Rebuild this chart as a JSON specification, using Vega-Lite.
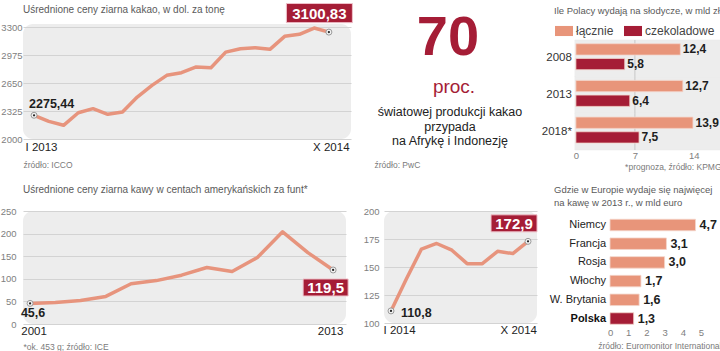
{
  "$schema": "https://vega.github.io/schema/vega-lite/v6.json",
  "background": "white",
  "padding": {"left": 0, "top": 1, "right": 0, "bottom": 0},
  "columns": 3,
  "spacing": {"row": 61, "column": 33},
  "bounds": "flush",
  "center": false,
  "resolve": {"scale": {"color": "independent"}, "legend": {"color": "independent"}},
  "config": {
    "font": "Liberation Sans Narrow, Liberation Sans, DejaVu Sans, sans-serif",
    "locale": {"number": {"decimal": ",", "thousands": " ", "grouping": [3], "currency": ["", ""]}},
    "view": {"stroke": null},
    "axis": {"domain": false, "ticks": false, "grid": false, "labelColor": "#808080", "labelFontSize": 9.5, "titleColor": "#7a7a7a", "titleFontSize": 8.5, "titleFontWeight": "normal", "gridColor": "#d3d3d3", "gridWidth": 1},
    "title": {"fontSize": 10, "fontWeight": "normal", "color": "#5a5a5a", "anchor": "start", "frame": "group"}
  },
  "concat": [
    {
      "width": 328,
      "height": 115,
      "view": {"fill": "#ededed", "cornerRadius": 10},
      "title": {"text": "Uśrednione ceny ziarna kakao, w dol. za tonę", "offset": -13},
      "data": {"values": [
        {"m": 1, "v": 2275.44, "pos": "start", "lab": 2275.44},
        {"m": 2, "v": 2205},
        {"m": 3, "v": 2159},
        {"m": 4, "v": 2305},
        {"m": 5, "v": 2352},
        {"m": 6, "v": 2287},
        {"m": 7, "v": 2313},
        {"m": 8, "v": 2487},
        {"m": 9, "v": 2623},
        {"m": 10, "v": 2739},
        {"m": 11, "v": 2770},
        {"m": 12, "v": 2836},
        {"m": 13, "v": 2828},
        {"m": 14, "v": 3009},
        {"m": 15, "v": 3048},
        {"m": 16, "v": 3060},
        {"m": 17, "v": 3041},
        {"m": 18, "v": 3192},
        {"m": 19, "v": 3215},
        {"m": 20, "v": 3288},
        {"m": 21, "v": 3241, "pos": "end", "lab": 3100.83}
      ]},
      "encoding": {
        "x": {"field": "m", "type": "quantitative", "scale": {"domain": [0.25, 22.5], "nice": false, "zero": false},
              "axis": {"values": [1.47, 21.13], "labelExpr": "datum.value < 10 ? 'I 2013' : 'X 2014'", "labelFontSize": 11.5, "labelColor": "#222", "labelPadding": 2, "labelFlush": false, "title": "źródło: ICCO", "titleAnchor": "start", "titlePadding": 8}},
        "y": {"field": "v", "type": "quantitative", "scale": {"domain": [2000, 3335], "nice": false, "zero": false},
              "axis": {"values": [2000, 2325, 2650, 2975, 3300], "format": "d", "grid": true, "title": null, "labelPadding": 1}}
      },
      "layer": [
        {"mark": {"type": "line", "color": "#e7947d", "strokeWidth": 3.5, "strokeJoin": "round", "strokeCap": "round"}},
        {"transform": [{"filter": "isValid(datum.pos)"}], "mark": {"type": "point", "filled": true, "fill": "#f2f2f2", "stroke": "#9a9a9a", "strokeWidth": 1, "size": 36, "opacity": 1}},
        {"transform": [{"filter": "isValid(datum.pos)"}], "mark": {"type": "point", "filled": true, "color": "#222", "size": 5, "opacity": 1}},
        {"transform": [{"filter": "datum.pos == 'start'"}], "mark": {"type": "text", "align": "left", "baseline": "middle", "xOffset": -5, "yOffset": -11, "fontSize": 12.5, "fontWeight": "bold", "color": "#1e1e1e"},
         "encoding": {"text": {"field": "lab", "type": "quantitative", "format": ".2f"}}},
        {"transform": [{"filter": "datum.pos == 'end'"}], "mark": {"type": "point", "shape": "M-1,-0.29H1V0.29H-1Z", "size": 4356, "filled": true, "fill": "#a51d36", "stroke": "#efc3cb", "strokeWidth": 1, "opacity": 1, "xOffset": -9.5, "yOffset": -19}},
        {"transform": [{"filter": "datum.pos == 'end'"}], "mark": {"type": "text", "align": "center", "baseline": "middle", "xOffset": -9.5, "yOffset": -18, "fontSize": 15, "fontWeight": "bold", "color": "white"},
         "encoding": {"text": {"field": "lab", "type": "quantitative", "format": ".2f"}}}
      ]
    },
    {
      "width": 132,
      "height": 126,
      "data": {"values": [
        {"part": "liczba", "t": "70"},
        {"part": "jedn", "t": "proc."},
        {"part": "opis", "t": "światowej produkcji kakao\nprzypada\nna Afrykę i Indonezję"}
      ]},
      "encoding": {
        "x": {"datum": 0, "type": "quantitative", "scale": {"domain": [-1, 1]},
              "axis": {"title": "źródło: PwC", "labels": false, "titleAnchor": "start", "titleAlign": "left", "titleX": -10, "titlePadding": 10}},
        "y": {"datum": 0, "type": "quantitative", "scale": {"domain": [-1, 1]}, "axis": null},
        "text": {"field": "t"}
      },
      "layer": [
        {"transform": [{"filter": "datum.part == 'liczba'"}], "mark": {"type": "text", "fontSize": 56, "fontWeight": "bold", "color": "#a51d36", "baseline": "alphabetic", "dy": -32, "dx": -2}},
        {"transform": [{"filter": "datum.part == 'jedn'"}], "mark": {"type": "text", "fontSize": 19, "color": "#a51d36", "baseline": "alphabetic", "dy": 6, "dx": 4}},
        {"transform": [{"filter": "datum.part == 'opis'"}], "mark": {"type": "text", "fontSize": 12.5, "color": "#222", "baseline": "alphabetic", "dy": 29, "lineBreak": "\n", "lineHeight": 14.5}}
      ]
    },
    {
      "width": 151,
      "height": 126,
      "title": {"text": "Ile Polacy wydają na słodycze, w mld zł", "offset": 7, "dx": -16, "fontSize": 9.5},
      "data": {"values": [
        {"rok": "2008", "typ": "łącznie", "v": 12.4},
        {"rok": "2008", "typ": "czekoladowe", "v": 5.8},
        {"rok": "2013", "typ": "łącznie", "v": 12.7},
        {"rok": "2013", "typ": "czekoladowe", "v": 6.4},
        {"rok": "2018*", "typ": "łącznie", "v": 13.9},
        {"rok": "2018*", "typ": "czekoladowe", "v": 7.5}
      ]},
      "encoding": {
        "x": {"field": "v", "type": "quantitative", "scale": {"domain": [-0.7, 17.23], "nice": false, "zero": false},
              "axis": {"values": [0, 7, 14], "labelPadding": 0, "labelFlush": false, "title": "*prognoza, źródło: KPMG", "titleAnchor": "end", "titlePadding": 3}},
        "y": {"field": "rok", "type": "nominal", "sort": null, "scale": {"paddingInner": 0, "paddingOuter": 0.218, "align": 1}, "axis": null}
      },
      "layer": [
        {"transform": [{"filter": "datum.typ == 'łącznie'"}], "mark": {"type": "rect", "color": "#ededed", "stroke": "#ededed", "strokeWidth": 0.6},
         "encoding": {"x": {"datum": -0.12, "type": "quantitative"}, "x2": {"datum": 17.23}}},
        {"transform": [{"filter": "datum.typ == 'łącznie'"}], "mark": {"type": "rect", "fill": null, "stroke": "#d3d3d3", "strokeWidth": 1},
         "encoding": {"x": {"datum": 7, "type": "quantitative"}, "x2": {"datum": 7}}},
        {"mark": {"type": "bar", "stroke": "#f4d6cc", "strokeWidth": 0.8},
         "encoding": {
           "yOffset": {"field": "typ", "type": "nominal", "sort": ["łącznie", "czekoladowe"], "scale": {"paddingInner": 0.23, "paddingOuter": 0.363, "align": 0.35}},
           "color": {"field": "typ", "type": "nominal", "sort": ["łącznie", "czekoladowe"], "scale": {"domain": ["łącznie", "czekoladowe"], "range": ["#e8957a", "#a51d36"]},
                     "legend": {"orient": "none", "legendX": -15, "legendY": -2, "padding": 0, "direction": "horizontal", "title": null, "symbolType": "M-1,-0.56H1V0.56H-1Z", "symbolSize": 324, "symbolStrokeWidth": 0, "symbolOpacity": 1, "labelFontSize": 12, "labelColor": "#444", "labelOffset": 3, "columnPadding": 10}}
         }},
        {"mark": {"type": "text", "align": "left", "baseline": "middle", "dx": 2.5, "fontSize": 12, "fontWeight": "bold", "color": "#1e1e1e"},
         "encoding": {
           "yOffset": {"field": "typ", "type": "nominal", "sort": ["łącznie", "czekoladowe"], "scale": {"paddingInner": 0.23, "paddingOuter": 0.363, "align": 0.35}},
           "text": {"field": "v", "type": "quantitative", "format": ".1f"}
         }},
        {"transform": [{"filter": "datum.typ == 'łącznie'"}], "mark": {"type": "text", "align": "right", "baseline": "middle", "dx": -4, "fontSize": 11.5, "color": "#333"},
         "encoding": {"x": {"datum": 0, "type": "quantitative"}, "text": {"field": "rok"}}}
      ]
    },
    {
      "width": 323,
      "height": 113,
      "view": {"fill": "#ededed", "cornerRadius": 10},
      "title": {"text": "Uśrednione ceny ziarna kawy w centach amerykańskich za funt*", "offset": 11},
      "data": {"values": [
        {"r": 2001, "v": 45.6, "pos": "start"},
        {"r": 2002, "v": 47.5},
        {"r": 2003, "v": 52},
        {"r": 2004, "v": 61},
        {"r": 2005, "v": 89},
        {"r": 2006, "v": 96},
        {"r": 2007, "v": 108},
        {"r": 2008, "v": 125},
        {"r": 2009, "v": 116},
        {"r": 2010, "v": 147},
        {"r": 2011, "v": 204},
        {"r": 2012, "v": 158},
        {"r": 2013, "v": 119.5, "pos": "end"}
      ]},
      "encoding": {
        "x": {"field": "r", "type": "quantitative", "scale": {"domain": [2000.72, 2013.51], "nice": false, "zero": false},
              "axis": {"values": [2001.14, 2012.88], "labelExpr": "datum.value < 2007 ? '2001' : '2013'", "labelFontSize": 11.5, "labelColor": "#222", "labelPadding": 1, "labelFlush": false, "title": "*ok. 453 g; źródło: ICE", "titleAnchor": "start", "titlePadding": 6}},
        "y": {"field": "v", "type": "quantitative", "scale": {"domain": [0, 250], "nice": false},
              "axis": {"values": [0, 50, 100, 150, 200, 250], "format": "d", "grid": true, "title": null, "labelPadding": 7}}
      },
      "layer": [
        {"mark": {"type": "line", "color": "#e7947d", "strokeWidth": 3.5, "strokeJoin": "round", "strokeCap": "round"}},
        {"transform": [{"filter": "isValid(datum.pos)"}], "mark": {"type": "point", "filled": true, "fill": "#f2f2f2", "stroke": "#9a9a9a", "strokeWidth": 1, "size": 36, "opacity": 1}},
        {"transform": [{"filter": "isValid(datum.pos)"}], "mark": {"type": "point", "filled": true, "color": "#222", "size": 5, "opacity": 1}},
        {"transform": [{"filter": "datum.pos == 'start'"}], "mark": {"type": "text", "align": "center", "baseline": "middle", "xOffset": 3, "yOffset": 10, "fontSize": 12.5, "fontWeight": "bold", "color": "#1e1e1e"},
         "encoding": {"text": {"field": "v", "type": "quantitative", "format": ".1f"}}},
        {"transform": [{"filter": "datum.pos == 'end'"}], "mark": {"type": "point", "shape": "M-1,-0.378H1V0.378H-1Z", "size": 2025, "filled": true, "fill": "#a51d36", "stroke": "#efc3cb", "strokeWidth": 1, "opacity": 1, "xOffset": -7.5, "yOffset": 17.5}},
        {"transform": [{"filter": "datum.pos == 'end'"}], "mark": {"type": "text", "align": "center", "baseline": "middle", "xOffset": -7.5, "yOffset": 18.5, "fontSize": 15, "fontWeight": "bold", "color": "white"},
         "encoding": {"text": {"field": "v", "type": "quantitative", "format": ".1f"}}}
      ]
    },
    {
      "width": 153,
      "height": 112,
      "view": {"fill": "#ededed", "cornerRadius": 10},
      "data": {"values": [
        {"k": 1, "v": 110.8, "pos": "start"},
        {"k": 2, "v": 139},
        {"k": 3, "v": 166},
        {"k": 4, "v": 171},
        {"k": 5, "v": 165},
        {"k": 6, "v": 153},
        {"k": 7, "v": 153},
        {"k": 8, "v": 164},
        {"k": 9, "v": 162},
        {"k": 10, "v": 172.9, "pos": "end"}
      ]},
      "encoding": {
        "x": {"field": "k", "type": "quantitative", "scale": {"domain": [0.54, 10.59], "nice": false, "zero": false},
              "axis": {"values": [1.53, 9.36], "labelExpr": "datum.value < 5 ? 'I 2014' : 'X 2014'", "labelFontSize": 11.5, "labelColor": "#222", "labelPadding": 1.5, "labelFlush": false, "title": null}},
        "y": {"field": "v", "type": "quantitative", "scale": {"domain": [100, 200], "nice": false, "zero": false},
              "axis": {"values": [100, 125, 150, 175, 200], "format": "d", "grid": true, "title": null, "labelPadding": 5}}
      },
      "layer": [
        {"mark": {"type": "line", "color": "#e7947d", "strokeWidth": 3.5, "strokeJoin": "round", "strokeCap": "round"}},
        {"transform": [{"filter": "isValid(datum.pos)"}], "mark": {"type": "point", "filled": true, "fill": "#f2f2f2", "stroke": "#9a9a9a", "strokeWidth": 1, "size": 36, "opacity": 1}},
        {"transform": [{"filter": "isValid(datum.pos)"}], "mark": {"type": "point", "filled": true, "color": "#222", "size": 5, "opacity": 1}},
        {"transform": [{"filter": "datum.pos == 'start'"}], "mark": {"type": "text", "align": "left", "baseline": "middle", "xOffset": 10, "yOffset": 2, "fontSize": 12.5, "fontWeight": "bold", "color": "#1e1e1e"},
         "encoding": {"text": {"field": "v", "type": "quantitative", "format": ".1f"}}},
        {"transform": [{"filter": "datum.pos == 'end'"}], "mark": {"type": "point", "shape": "M-1,-0.37H1V0.37H-1Z", "size": 2116, "filled": true, "fill": "#a51d36", "stroke": "#efc3cb", "strokeWidth": 1, "opacity": 1, "xOffset": -14, "yOffset": -18}},
        {"transform": [{"filter": "datum.pos == 'end'"}], "mark": {"type": "text", "align": "center", "baseline": "middle", "xOffset": -14, "yOffset": -17, "fontSize": 15, "fontWeight": "bold", "color": "white"},
         "encoding": {"text": {"field": "v", "type": "quantitative", "format": ".1f"}}}
      ]
    },
    {
      "width": 151,
      "height": 116,
      "title": {"text": ["Gdzie w Europie wydaje się najwięcej", "na kawę w 2013 r., w mld euro"], "offset": 4, "dx": -16, "lineHeight": 12.5, "fontSize": 9.5},
      "data": {"values": [
        {"kraj": "Niemcy", "v": 4.7},
        {"kraj": "Francja", "v": 3.1},
        {"kraj": "Rosja", "v": 3.0},
        {"kraj": "Włochy", "v": 1.7},
        {"kraj": "W. Brytania", "v": 1.6},
        {"kraj": "Polska", "v": 1.3}
      ]},
      "encoding": {
        "x": {"field": "v", "type": "quantitative", "scale": {"domain": [-2.2, 6.1], "nice": false, "zero": false},
              "axis": {"values": [0, 1, 2, 3, 4, 5], "labelPadding": 0, "labelFlush": false, "title": "źródło: Euromonitor International", "titleAnchor": "end", "titlePadding": 5}}
      },
      "layer": [
        {"data": {"values": [{}]}, "mark": {"type": "rect", "color": "#ededed", "cornerRadius": 8},
         "encoding": {"x": {"datum": -0.17, "type": "quantitative"}, "x2": {"datum": 5.34}}},
        {"mark": {"type": "bar", "stroke": "#f4d6cc", "strokeWidth": 0.8},
         "encoding": {
           "y": {"field": "kraj", "type": "nominal", "sort": null, "scale": {"paddingInner": 0.385, "paddingOuter": 0.294, "align": 0.75}, "axis": null},
           "color": {"condition": {"test": "datum.kraj === 'Polska'", "value": "#a51d36"}, "value": "#e8957a"}
         }},
        {"mark": {"type": "text", "align": "left", "baseline": "middle", "dx": 4, "fontSize": 12.5, "fontWeight": "bold", "color": "#1e1e1e"},
         "encoding": {
           "y": {"field": "kraj", "type": "nominal", "sort": null, "axis": null},
           "text": {"field": "v", "type": "quantitative", "format": ".1f"}
         }},
        {"transform": [{"filter": "datum.kraj !== 'Polska'"}], "mark": {"type": "text", "align": "right", "baseline": "middle", "dx": -4, "fontSize": 11, "color": "#222"},
         "encoding": {"x": {"datum": 0, "type": "quantitative"}, "y": {"field": "kraj", "type": "nominal", "sort": null, "axis": null}, "text": {"field": "kraj"}}},
        {"transform": [{"filter": "datum.kraj === 'Polska'"}], "mark": {"type": "text", "align": "right", "baseline": "middle", "dx": -4, "fontSize": 11, "fontWeight": "bold", "color": "#111"},
         "encoding": {"x": {"datum": 0, "type": "quantitative"}, "y": {"field": "kraj", "type": "nominal", "sort": null, "axis": null}, "text": {"field": "kraj"}}}
      ]
    }
  ]
}
